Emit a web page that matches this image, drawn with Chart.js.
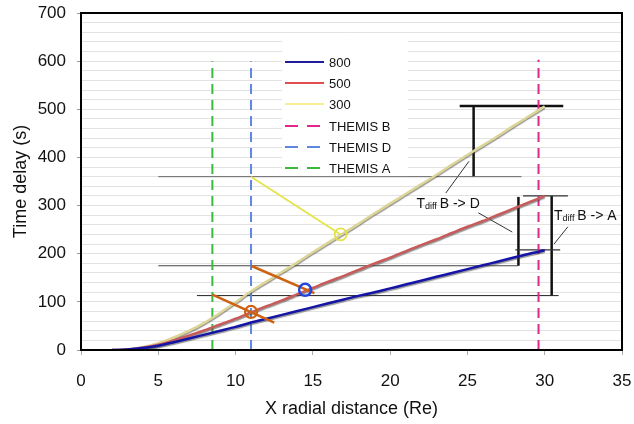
<!DOCTYPE html>
<html>
<head>
<meta charset="utf-8">
<script src="https://cdn.jsdelivr.net/npm/chart.js@4.4.1/dist/chart.umd.min.js"></script>
<style>
html,body{margin:0;padding:0;background:#fff;}
#wrap{width:634px;height:424px;position:relative;}
</style>
</head>
<body>
<div id="wrap"><canvas id="c" width="634" height="424"></canvas></div>
<script>
// ---- data ----
const distance = [2,3,4,5,6,7,8,9,10,11,12,13,14,15,16,17,18,19,20,21,22,23,24,25,26,27,28,29,30];
const t800 = [0,1,4,9,16,24,32,40,48,57,65,73,81,89,97,105,113,120,128,136,144,152,160,168,176,184,192,200,207];
const t500 = [0,1,5,11,20,30,41,53,65,78,91,103,116,129,142,154,167,180,192,205,218,230,243,256,268,281,294,307,320];
const t300 = [0,1,6,14,26,40,57,77,99,122,142,162,182,203,223,243,263,284,304,324,344,364,385,405,425,445,466,486,506];

const themisB = [[29.6,0],[29.6,603]];
const themisD = [[11,0],[11,600]];
const themisA = [[8.5,0],[8.5,600]];

const refLine360 = [[5,360],[28.5,360]];
const refLine175 = [[5,175],[28.3,175]];
const refLine113 = [[7.5,113],[30.9,113]];
const capTop507 = [[24.5,507],[31.2,507]];
const capB320 = [[28.6,320],[31.5,320]];
const capB207 = [[28.1,208],[31.0,208]];
const barBD300 = [[25.4,360],[25.4,505]];
const barBD800 = [[28.3,175],[28.3,318]];
const barBA = [[30.45,113],[30.45,320]];

const orangeA = [[8.5,115],[12.5,57]];
const orangeD = [[11,175],[15.1,118]];
const yellowD = [[11,360],[16.8,240]];

const circleA = [[11,79]];
const circleD = [[14.5,125]];
const circle300 = [[16.8,240]];

const callout1 = [[23.6,326],[25.1,392]];
const callout2 = [[25.7,285],[27.9,245]];
const callout3 = [[31.5,256],[30.6,220]];

const labelBD = {x:21.7, y:306, sub:'diff', rest:' B -> D'};
const labelBA = {x:30.6, y:281, sub:'diff', rest:' B -> A'};

const xTickValues = [0,5,10,15,20,25,30,35];
const yTickValues = [0,100,200,300,400,500,600,700];

const legendNames = ['800','500','300','THEMIS B','THEMIS D','THEMIS A'];

// ---- helpers ----
const pts = arr => arr.map(p => ({x:p[0], y:p[1]}));
const curve = (ys) => distance.map((x,i)=>({x, y:ys[i]}));

function seg(data, color, width, extra){
  return Object.assign({data: pts(data), borderColor: color, borderWidth: width, pointRadius: 0, showLine: true, fill:false, tension:0, order: 5}, extra||{});
}

const datasets = [
  {label:legendNames[0], data: curve(t800), borderColor:'#1414a6', borderWidth:2.5, pointRadius:0, cubicInterpolationMode:'monotone', shadow:true, order:3, legendColor:'#1e1e9a'},
  {label:legendNames[1], data: curve(t500), borderColor:'#c95a5a', borderWidth:2.5, pointRadius:0, cubicInterpolationMode:'monotone', shadow:true, order:3, legendColor:'#e05050'},
  {label:legendNames[2], data: curve(t300), borderColor:'#dcd596', borderWidth:2.5, pointRadius:0, cubicInterpolationMode:'monotone', shadow:true, order:3, legendColor:'#f6ee90'},
  seg(themisB, '#e2268c', 2, {label:legendNames[3], borderDash:[10,6], order:4}),
  seg(themisD, '#5c88e0', 2, {label:legendNames[4], borderDash:[10,6], order:4}),
  seg(themisA, '#3cb83c', 2, {label:legendNames[5], borderDash:[10,6], order:4}),
  seg(refLine360, '#666', 1),
  seg(refLine175, '#444', 1),
  seg(refLine113, '#222', 1),
  seg(capTop507, '#111', 2.5),
  seg(capB320, '#333', 1.3),
  seg(capB207, '#333', 1.3),
  seg(barBD300, '#111', 2.5),
  seg(barBD800, '#111', 2.5),
  seg(barBA, '#111', 2.5),
  seg(orangeA, '#cc6212', 2.5, {order:2}),
  seg(orangeD, '#cc6212', 2.5, {order:2}),
  seg(yellowD, '#e4e44a', 1.8, {order:2}),
  seg(callout1, '#333', 1),
  seg(callout2, '#333', 1),
  seg(callout3, '#333', 1),
  {data: pts(circleA), showLine:false, pointRadius:6, pointHoverRadius:6, pointStyle:'circle', borderColor:'#cc6212', backgroundColor:'rgba(0,0,0,0)', borderWidth:2.2, order:1},
  {data: pts(circleD), showLine:false, pointRadius:6, pointHoverRadius:6, pointStyle:'circle', borderColor:'#2244e0', backgroundColor:'rgba(0,0,0,0)', borderWidth:2.5, order:1},
  {data: pts(circle300), showLine:false, pointRadius:6, pointHoverRadius:6, pointStyle:'circle', borderColor:'#e2e24a', backgroundColor:'rgba(0,0,0,0)', borderWidth:1.8, order:1},
];

const FONT = '"Liberation Sans", Arial, Helvetica, sans-serif';

const shadowPlugin = {
  id:'shadow',
  beforeDatasetDraw(chart, args){
    const ds = chart.data.datasets[args.index];
    if (ds.shadow){
      const ctx = chart.ctx;
      ctx.save();
      ctx.shadowColor = 'rgba(60,60,60,0.55)';
      ctx.shadowOffsetX = 0;
      ctx.shadowOffsetY = 1.5;
      ctx.shadowBlur = 1;
    }
  },
  afterDatasetDraw(chart, args){
    const ds = chart.data.datasets[args.index];
    if (ds.shadow) chart.ctx.restore();
  }
};

const legendPlugin = {
  id:'innerLegend',
  beforeDatasetsDraw(chart){
    const ctx = chart.ctx;
    const box = {x:282, y:38, w:126, h:139};
    ctx.save();
    ctx.fillStyle = '#fff';
    ctx.fillRect(box.x, box.y, box.w, box.h);
    const rows = [62,83,104,126,147,168];
    ctx.font = '13px ' + FONT;
    ctx.textBaseline = 'middle';
    for (let i=0;i<6;i++){
      const ds = chart.data.datasets[i];
      ctx.beginPath();
      ctx.strokeStyle = ds.legendColor || ds.borderColor;
      ctx.lineWidth = 2;
      ctx.setLineDash(ds.borderDash ? [13,9] : []);
      ctx.moveTo(285, rows[i]);
      ctx.lineTo(324, rows[i]);
      ctx.stroke();
      ctx.setLineDash([]);
      ctx.fillStyle = '#111';
      ctx.fillText(ds.label, 329, rows[i]+1);
    }
    ctx.restore();
  }
};

const framePlugin = {
  id:'frame',
  afterDatasetsDraw(chart){
    const {ctx, chartArea:a, scales} = chart;
    ctx.save();
    ctx.strokeStyle = '#000';
    ctx.lineWidth = 2;
    ctx.strokeRect(a.left, a.top, a.right-a.left, a.bottom-a.top);
    ctx.fillStyle = '#111';
    ctx.textBaseline = 'alphabetic';
    [labelBD, labelBA].forEach(l=>{
      const px = scales.x.getPixelForValue(l.x);
      const py = scales.y.getPixelForValue(l.y);
      ctx.font = '14px ' + FONT;
      ctx.fillText('T', px, py+5);
      let w = ctx.measureText('T').width;
      ctx.font = '9px ' + FONT;
      ctx.fillText(l.sub, px+w, py+6);
      w += ctx.measureText(l.sub).width;
      ctx.font = '14px ' + FONT;
      ctx.fillText(l.rest, px+w-1, py+5);
    });
    ctx.restore();
  }
};

new Chart(document.getElementById('c'), {
  type:'line',
  data:{datasets},
  options:{
    responsive:false,
    animation:false,
    events:[],
    layout:{padding:{top:13,right:12,left:0,bottom:0}},
    plugins:{legend:{display:false}, tooltip:{enabled:false}},
    scales:{
      x:{
        type:'linear', min:0, max:35,
        afterBuildTicks(scale){ scale.ticks = xTickValues.map(v=>({value:v})); },
        afterFit(scale){ scale.height = 74; scale.paddingLeft = 0; scale.paddingRight = 0; },
        border:{display:false},
        grid:{drawOnChartArea:false, drawTicks:true, tickLength:5, tickColor:'#aaa'},
        ticks:{font:{family:FONT, size:17}, color:'#111', padding:16, maxRotation:0, autoSkip:false},
        title:{display:true, text:'X radial distance (Re)', font:{family:FONT, size:18}, color:'#111', padding:{top:4}}
      },
      y:{
        type:'linear', min:0, max:700,
        afterBuildTicks(scale){
          const t = [];
          for (let v = 0; v <= 700; v += 20) t.push({value:v});
          scale.ticks = t;
        },
        ticks:{font:{family:FONT, size:17}, color:'#111', padding:11, autoSkip:false,
          callback:(v)=> yTickValues.includes(v) ? String(v) : ''},
        afterFit(scale){ scale.width = 81; scale.paddingTop = 0; scale.paddingBottom = 0; },
        border:{display:false},
        grid:{color:'#e2e2e2', lineWidth:1, tickLength:4,
          tickColor:(c)=> (c.tick && yTickValues.includes(c.tick.value)) ? '#999' : 'rgba(0,0,0,0)'},
        title:{display:true, text:'Time delay (s)', font:{family:FONT, size:18}, color:'#111', padding:{top:10, bottom:2}}
      }
    }
  },
  plugins:[shadowPlugin, legendPlugin, framePlugin]
});
</script>
</body>
</html>
